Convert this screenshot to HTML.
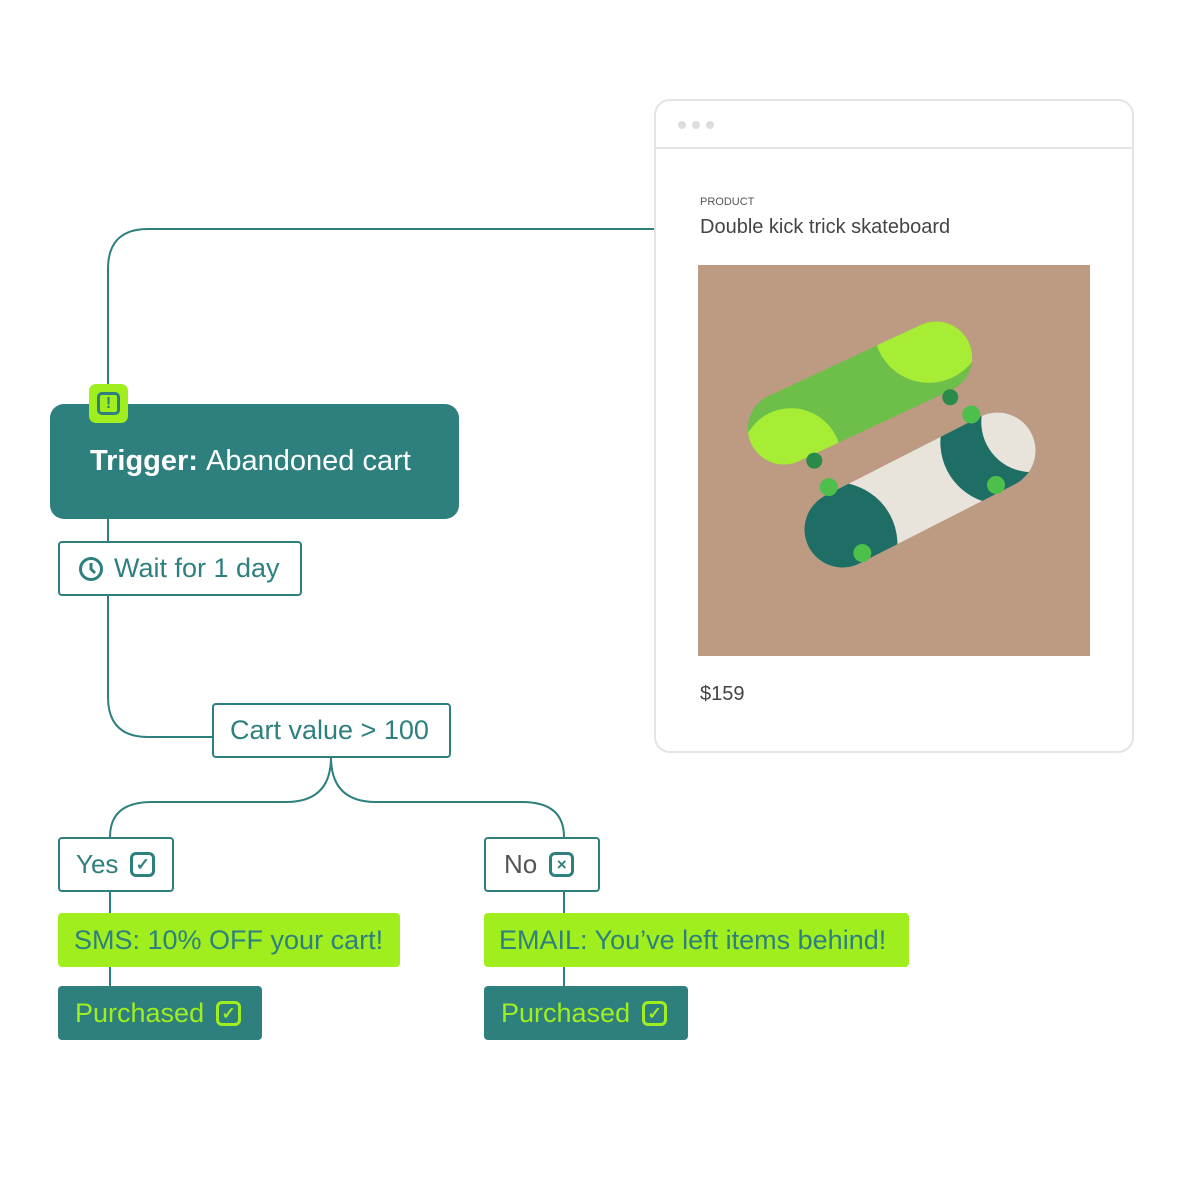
<!DOCTYPE html>
<html><head><style>
body{margin:0;width:1184px;height:1184px;background:#fff;position:relative;overflow:hidden;font-family:"Liberation Sans",sans-serif}
.b{position:absolute;box-sizing:border-box;display:flex;align-items:center}
.o{border:2px solid #2e807e;background:#fff;color:#2e807e;border-radius:4px}
.l{background:#a0ee1d;color:#2e807e;border-radius:4px}
.t{background:#2e807e;color:#a0ee1d;border-radius:4px}
.ic{display:inline-block;width:25px;height:25px;border:3px solid currentColor;border-radius:6px;box-sizing:border-box;margin-left:12px;position:relative;font-size:17px;line-height:19px;text-align:center;font-weight:bold}
</style></head><body>
<svg width="1184" height="1184" style="position:absolute;left:0;top:0" fill="none" stroke="#2e807e" stroke-width="2">
<path d="M655 229 H148 Q108 229 108 269 V400"/>
<path d="M108 518 V541 M108 595 V697 Q108 737 148 737 H213"/>
<path d="M331 757 Q331 802 286 802 H152 Q110 802 110 837"/>
<path d="M331 757 Q331 802 376 802 H522 Q564 802 564 837"/>
<path d="M110 891 V913 M110 966 V986 M564 891 V913 M564 966 V986"/>
</svg>
<div class="b" style="left:50px;top:404px;width:409px;height:115px;background:#2e807e;border-radius:14px;color:#fff;font-size:29px;padding-left:40px"><b>Trigger:</b>&nbsp;Abandoned cart</div>
<div style="position:absolute;left:89px;top:384px;width:39px;height:39px;background:#a0ee1d;border-radius:7px"><div style="position:absolute;left:8px;top:8px;width:23px;height:23px;border:3px solid #2e807e;border-radius:5px;box-sizing:border-box;color:#2e807e;font-weight:bold;font-size:16px;text-align:center;line-height:17px">!</div></div>
<div class="b o" style="left:58px;top:541px;width:244px;height:55px;font-size:27px;padding-left:18px"><svg width="26" height="26" style="margin-right:10px"><circle cx="13" cy="13" r="10.5" stroke="#2e807e" stroke-width="3" fill="none"/><path d="M13 7 V13 L17 17" stroke="#2e807e" stroke-width="3" fill="none"/></svg>Wait for 1 day</div>
<div class="b o" style="left:212px;top:703px;width:239px;height:55px;font-size:27px;padding-left:16px">Cart value &gt; 100</div>
<div class="b o" style="left:58px;top:837px;width:116px;height:55px;font-size:26px;padding-left:16px">Yes<span class="ic">✓</span></div>
<div class="b o" style="left:484px;top:837px;width:116px;height:55px;font-size:26px;padding-left:18px;color:#555">No<span class="ic" style="color:#2e807e">×</span></div>
<div class="b l" style="left:58px;top:913px;width:342px;height:54px;font-size:27px;padding-left:16px">SMS: 10% OFF your cart!</div>
<div class="b l" style="left:484px;top:913px;width:425px;height:54px;font-size:27px;padding-left:15px">EMAIL: You’ve left items behind!</div>
<div class="b t" style="left:58px;top:986px;width:204px;height:54px;font-size:27px;padding-left:17px">Purchased<span class="ic">✓</span></div>
<div class="b t" style="left:484px;top:986px;width:204px;height:54px;font-size:27px;padding-left:17px">Purchased<span class="ic">✓</span></div>
<div style="position:absolute;left:654px;top:99px;width:480px;height:654px;border:2px solid #e4e4e4;border-radius:16px;box-sizing:border-box;background:#fff">
<div style="height:46px;border-bottom:2px solid #e4e4e4"></div>
<div style="position:absolute;left:22px;top:20px;width:8px;height:8px;border-radius:50%;background:#ddd;box-shadow:14px 0 #ddd,28px 0 #ddd"></div>
<div style="position:absolute;left:44px;top:95px;font-size:11px;color:#555">PRODUCT</div>
<div style="position:absolute;left:44px;top:115px;font-size:20px;color:#444">Double kick trick skateboard</div>
<div style="position:absolute;left:44px;top:582px;font-size:20px;color:#444">$159</div>
</div>
<svg style="position:absolute;left:698px;top:265px" width="392" height="391">
<defs>
<clipPath id="c1"><rect x="-120" y="-36" width="240" height="72" rx="36"/></clipPath>
<clipPath id="c2"><rect x="-125" y="-38" width="250" height="76" rx="38"/></clipPath>
</defs>
<rect width="392" height="391" fill="#bd9a82"/>
<g transform="translate(162,128) rotate(-25)"><g clip-path="url(#c1)"><rect x="-120" y="-36" width="240" height="72" fill="#6dbf4a"/><circle cx="90" cy="-30" r="55" fill="#a7ec35"/><circle cx="-90" cy="30" r="50" fill="#a7ec35"/></g>
<circle cx="80" cy="42" r="8" fill="#2a8a4a"/><circle cx="-70" cy="42" r="8" fill="#2a8a4a"/></g>
<g transform="translate(222,225) rotate(-27)"><g clip-path="url(#c2)"><rect x="-125" y="-38" width="250" height="76" fill="#e8e4dc"/><circle cx="-100" cy="10" r="62" fill="#1f6e66"/><circle cx="95" cy="-5" r="62" fill="#1f6e66"/><circle cx="130" cy="-10" r="50" fill="#e8e4dc"/></g>
<circle cx="80" cy="-44" r="9" fill="#4cc04a"/><circle cx="-80" cy="-44" r="9" fill="#4cc04a"/><circle cx="70" cy="30" r="9" fill="#4cc04a"/><circle cx="-80" cy="30" r="9" fill="#4cc04a"/></g>
</svg>
</body></html>
